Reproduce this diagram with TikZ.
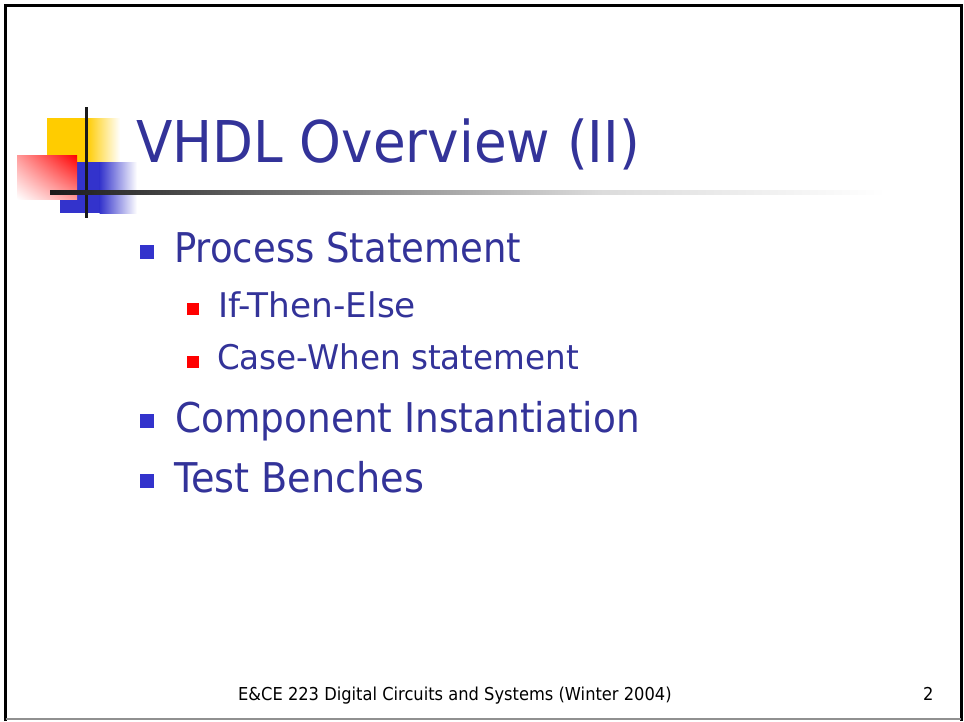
\documentclass[tikz,border=0pt]{standalone}
\usepackage{fontspec}
\setmainfont{DejaVu Sans}
\usetikzlibrary{shadings}
\definecolor{slateblue}{HTML}{333399}
\definecolor{bulletblue}{HTML}{3333CC}
\definecolor{logoyellow}{HTML}{FFCC00}
\definecolor{logoblue}{HTML}{3333CC}
\definecolor{framegray}{HTML}{909090}
% horizontal squeeze of a text
\newcommand{\hsq}[2]{\scalebox{#1}[1]{#2}}
\tikzset{
  txt/.style={anchor=base west, inner sep=0pt, text=slateblue},
  titletxt/.style={txt, font=\fontsize{57.6}{66}\selectfont},
  lvlone/.style={txt, font=\fontsize{41}{49}\selectfont},
  lvltwo/.style={txt, font=\fontsize{34}{41}\selectfont},
  foot/.style={anchor=base west, inner sep=0pt, text=black, font=\fontsize{17.8}{21}\selectfont},
  bigbullet/.style={fill=bulletblue},
  smallbullet/.style={fill=red},
}
\begin{document}
\begin{tikzpicture}[x=1pt,y=-1pt]
\useasboundingbox[fill=white] (0,0) rectangle (964,721);
% slide frame
\draw[black, line width=3pt] (5.5,721) -- (5.5,5) -- (961,5) -- (961,721);
\draw[framegray, line width=2pt] (5.5,719) -- (961,719);

% logo: yellow square fading to the right
\fill[logoyellow] (47,118) rectangle (87,162);
\shade[left color=logoyellow, right color=white] (86.5,118) rectangle (120,162);
% blue square fading to the right
\fill[logoblue] (60,162) rectangle (100,213);
\shade[left color=logoblue, right color=white] (99.5,162) rectangle (137,213);
% red square, diagonal fade
\shade[upper right=red, lower left=white, upper left=red!40, lower right=red!40] (17,155) rectangle (77,199);
% cross lines
\fill[black!90] (84.5,107) rectangle (88,218);
\shade[left color=black!90, right color=black!60] (50,190.5) rectangle (260,194.5);
\shade[left color=black!60, right color=black!14] (259.5,190.5) rectangle (600,194.5);
\shade[left color=black!14, right color=white] (599.5,190.5) rectangle (885,194.5);

% title
\node[titletxt] (title) at (136,162) {\hsq{0.923}{VHDL Overview (II)}};

% bullets
\fill[bigbullet] (140,245) rectangle (154,259);
\node[lvlone] (process) at (174,262) {\hsq{0.903}{Process Statement}};
\fill[smallbullet] (187,303) rectangle (199,315);
\node[lvltwo] (ifthen) at (218,317) {\hsq{1.01}{If-Then-Else}};
\fill[smallbullet] (187,356) rectangle (199,368);
\node[lvltwo] (casewhen) at (217,369) {\hsq{0.958}{Case-When statement}};
\fill[bigbullet] (140,414) rectangle (154,428);
\node[lvlone] (component) at (175,432) {\hsq{0.913}{Component Instantiation}};
\fill[bigbullet] (140,474) rectangle (154,488);
\node[lvlone] (testbench) at (174,492) {\hsq{0.933}{Test Benches}};

% footer
\node[foot] (course) at (238,700) {\hsq{0.915}{E\&CE 223 Digital Circuits and Systems (Winter 2004)}};
\node[foot] (pagenum) at (923,700) {\hsq{0.915}{2}};
\end{tikzpicture}
\end{document}
